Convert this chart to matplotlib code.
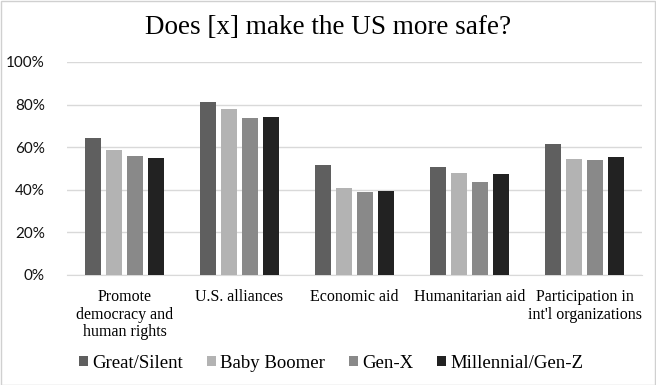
import numpy as np
import matplotlib
matplotlib.use("Agg")
import matplotlib.pyplot as plt
from matplotlib.patches import Rectangle

# ── data ───────────────────────────────────────────────────────────────────
categories = ["Promote\ndemocracy and\nhuman rights", "U.S. alliances",
              "Economic aid", "Humanitarian aid",
              "Participation in\nint'l organizations"]
groups = ["Great/Silent", "Baby Boomer", "Gen-X", "Millennial/Gen-Z"]
great_silent = [64.2, 81.0, 51.5, 50.6, 61.4]
baby_boomer = [58.5, 77.8, 40.7, 47.8, 54.3]
gen_x = [55.7, 73.5, 38.9, 43.6, 53.9]
millennial = [54.8, 74.0, 39.3, 47.3, 55.3]
yticks = [0, 20, 40, 60, 80, 100]

COLORS = ["#5f5f5f", "#b3b3b3", "#898989", "#222222"]
SERIF = "Liberation Serif"

fig = plt.figure(figsize=(6.56, 3.85), dpi=100)
fig.patch.set_facecolor("white")
fig.add_artist(Rectangle((0.001, 0.001), 0.997, 0.996, transform=fig.transFigure,
                         fill=False, edgecolor="#d0d0d0", linewidth=1))

ax = fig.add_axes([0.102, 0.286, 0.877, 0.553])

x = np.arange(len(categories))
width = 0.14
step = 0.183
series = [great_silent, baby_boomer, gen_x, millennial]
for i, (vals, name) in enumerate(zip(series, groups)):
    ax.bar(x + (i - 1.5) * step, vals, width, color=COLORS[i], label=name, zorder=3)

ax.set_xlim(-0.5, len(categories) - 0.5)
ax.set_ylim(0, 100)
ax.set_yticks(yticks)
ax.set_yticklabels([f"{v}%" for v in yticks], fontfamily="Lato", fontsize=11)
ax.yaxis.grid(True, color="#d9d9d9", linewidth=1, zorder=0)
ax.tick_params(axis="y", length=0, pad=16, colors="#111111")
ax.set_xticks(x)
ax.set_xticklabels(categories, fontfamily=SERIF, fontsize=11.5, va="top",
                   linespacing=1.15)
ax.tick_params(axis="x", length=0, pad=10)
for s in ["top", "right", "left"]:
    ax.spines[s].set_visible(False)
ax.spines["bottom"].set_color("#d9d9d9")

fig.suptitle("Does [x] make the US more safe?", fontfamily=SERIF, fontsize=19.5,
             y=0.96)

fig.legend(loc="center", bbox_to_anchor=(0.505, 0.057), ncol=4, frameon=False,
           prop={"family": SERIF, "size": 13.5}, handlelength=0.48,
           handleheight=0.48, handletextpad=0.2, columnspacing=1.3)

fig.savefig("out.png", dpi=100, facecolor="white")
